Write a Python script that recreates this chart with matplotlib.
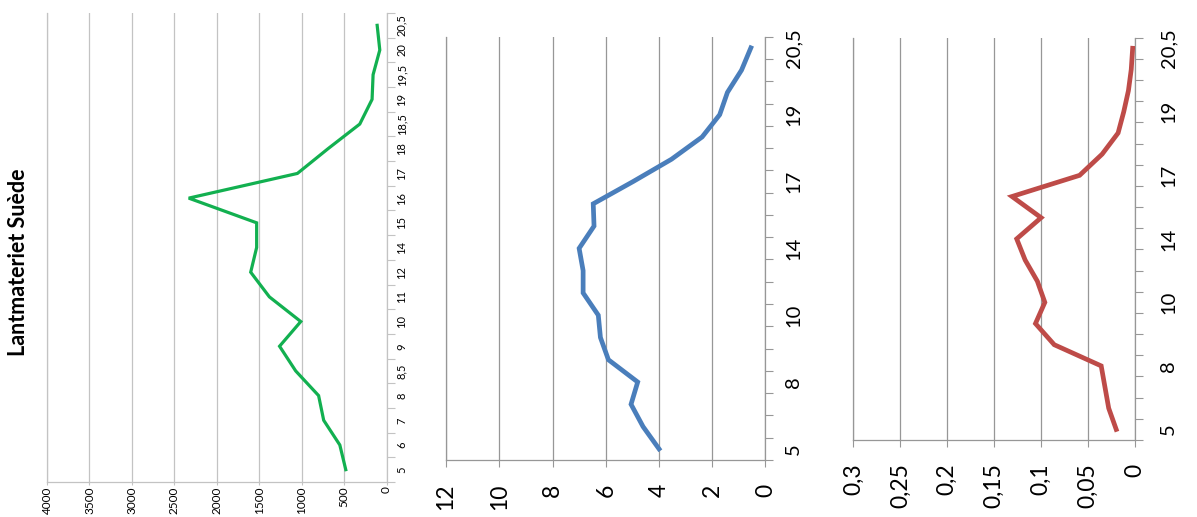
import numpy as np
from matplotlib import pyplot as plt
from matplotlib.ticker import FixedLocator

plt.rcParams['font.family'] = ['Lato', 'DejaVu Sans']

# categories (shared by the three panels)
cats = ['5', '6', '7', '8', '8,5', '9', '10', '11', '12', '14', '15', '16',
        '17', '18', '18,5', '19', '19,5', '20', '20,5']

# series values
lantmateriet = [480, 550, 740, 800, 1070, 1260, 1010, 1380, 1600, 1530, 1530,
                2330, 1050, 690, 315, 170, 158, 79, 110]
blue_vals = [4.0, 4.6, 5.05, 4.8, 5.9, 6.2, 6.28, 6.85, 6.85, 7.0, 6.44, 6.47,
             4.97, 3.53, 2.38, 1.72, 1.43, 0.9, 0.55]
red_vals = [0.02, 0.028, 0.032, 0.036, 0.086, 0.106, 0.096, 0.104, 0.117, 0.126,
            0.100, 0.131, 0.059, 0.035, 0.018, 0.012, 0.007, 0.004, 0.0025]

ticks1 = [0, 500, 1000, 1500, 2000, 2500, 3000, 3500, 4000]
ticks2 = [0, 2, 4, 6, 8, 10, 12]
ticks3 = [0, 0.05, 0.1, 0.15, 0.2, 0.25, 0.3]
labels3 = ['0', '0,05', '0,1', '0,15', '0,2', '0,25', '0,3']

W, H = 1197, 517
fig = plt.figure(figsize=(W / 100, H / 100), dpi=100)


def panel(left, right, top, bottom, vals, color, lw, vticks, vlabels, vmax,
          cat_every, gridc, vsize, csize, vpad, cpad, vtick_len):
    ax = fig.add_axes([left / W, 1 - bottom / H, (right - left) / W, (bottom - top) / H])
    idx = np.arange(len(cats))
    ax.plot(vals, idx, color=color, lw=lw, solid_joinstyle='miter', zorder=3)
    ax.set_xlim(vmax, 0)
    ax.set_ylim(-0.5, len(cats) - 0.5)
    ax.set_xticks(vticks)
    ax.set_xticklabels(vlabels, rotation=90, fontsize=vsize)
    ax.tick_params(axis='x', length=vtick_len, width=0.8, color=gridc, pad=vpad)
    ax.grid(axis='x', color=gridc, lw=0.9)
    ax.set_axisbelow(True)
    # category axis on the right, labels between tick marks
    ax.yaxis.tick_right()
    shown = idx[::cat_every]
    ax.set_yticks(shown)
    ax.set_yticklabels([cats[i] for i in shown], rotation=90, fontsize=csize,
                       va='center')
    ax.yaxis.set_minor_locator(FixedLocator(np.arange(-0.5, len(cats), 1)))
    ax.tick_params(axis='y', which='major', length=0, pad=cpad)
    ax.tick_params(axis='y', which='minor', length=6, width=0.8, color=gridc)
    ax.spines['top'].set_visible(False)
    for s in ['left', 'bottom', 'right']:
        ax.spines[s].set_color(gridc)
        ax.spines[s].set_linewidth(0.9)
    ax.set_facecolor('none')
    return ax


panel(47, 386.5, 13, 482, lantmateriet, '#12B050', 2.3, ticks1,
      [str(t) for t in ticks1], 4000, 1, '#c3c3c3', 8.5, 8, 1, 7, 2)
panel(446, 765.5, 36.7, 460, blue_vals, '#4A7EBB', 3.4, ticks2,
      [str(t) for t in ticks2], 12, 3, '#979797', 16.5, 14.5, 12, 14, 5)
panel(853.3, 1135, 37.7, 440, red_vals, '#BE4B48', 3.4, ticks3,
      labels3, 0.3, 3, '#979797', 16.5, 14.5, 12, 18, 5)

fig.text(19 / W, 1 - 262 / H, 'Lantmateriet Suède', rotation=90, ha='center',
         va='center', fontsize=15.5, fontweight='bold')

fig.savefig('out.png', dpi=100)
